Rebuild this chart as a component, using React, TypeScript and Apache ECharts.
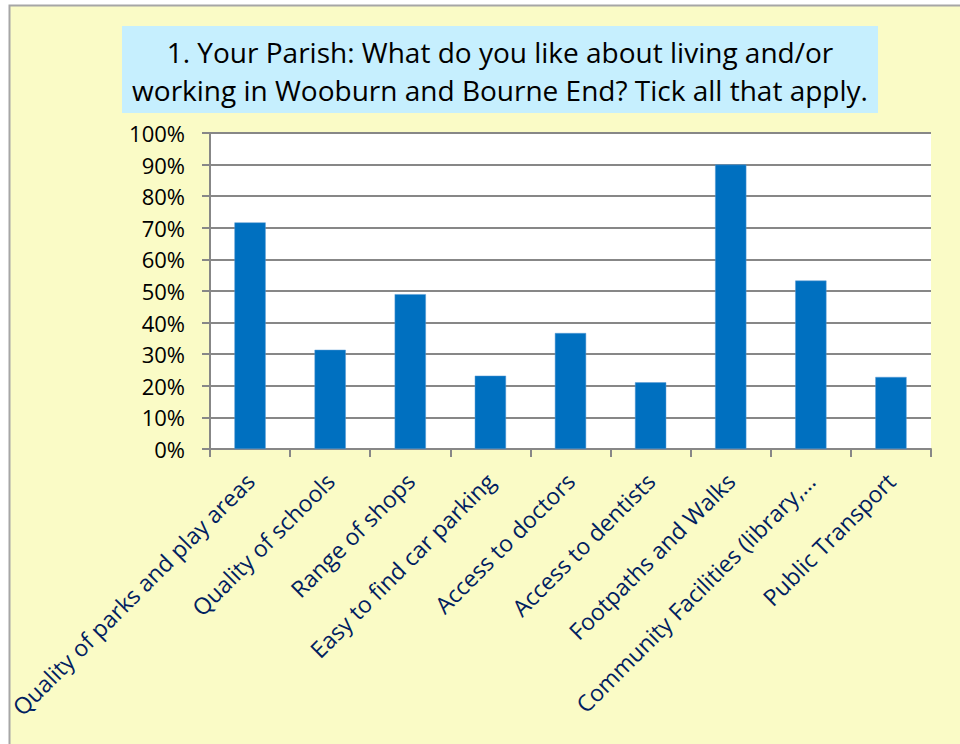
import React, { useEffect, useRef } from "react";
import * as echarts from "echarts";

const categories = [
  "Quality of parks and play areas",
  "Quality of schools",
  "Range of shops",
  "Easy to find car parking",
  "Access to doctors",
  "Access to dentists",
  "Footpaths and Walks",
  "Community Facilities (library,…",
  "Public Transport",
];
const values = [71.7, 31.4, 49.0, 23.2, 36.7, 21.1, 90.0, 53.3, 22.8];
const titleLines = [
  "1. Your Parish: What do you like about living and/or",
  "working in Wooburn and Bourne End? Tick all that apply.",
];

const FONT = "'Open Sans', 'Noto Sans', sans-serif";

export default function App() {
  const ref = useRef<HTMLDivElement>(null);
  useEffect(() => {
    if (!ref.current) return;
    const chart = echarts.init(ref.current, undefined, { renderer: "svg" });
    chart.setOption({
      animation: false,
      backgroundColor: "#ffffff",
      textStyle: { fontFamily: FONT },
      graphic: [
        {
          type: "rect",
          z: -10,
          shape: { x: 9.5, y: 5.5, width: 1000, height: 800 },
          style: { fill: "#FAFBC6", stroke: "#A6A6A6", lineWidth: 2 },
        },
        {
          type: "rect",
          z: -5,
          shape: { x: 122, y: 26, width: 756, height: 87 },
          style: { fill: "#C6EFFE" },
        },
        {
          type: "text",
          x: 500,
          y: 52,
          style: {
            text: titleLines[0],
            textAlign: "center",
            textVerticalAlign: "middle",
            fontSize: 28,
            fontFamily: FONT,
            fill: "#000000",
          },
        },
        {
          type: "text",
          x: 500,
          y: 90,
          style: {
            text: titleLines[1],
            textAlign: "center",
            textVerticalAlign: "middle",
            fontSize: 28,
            fontFamily: FONT,
            fill: "#000000",
          },
        },
      ],
      grid: {
        left: 210,
        top: 133,
        right: 29,
        bottom: 295,
        show: true,
        backgroundColor: "#ffffff",
        borderWidth: 0,
      },
      xAxis: {
        type: "category",
        data: categories,
        axisLine: { lineStyle: { color: "#878787", width: 2 } },
        axisTick: { show: true, length: 8, lineStyle: { color: "#878787", width: 2 } },
        axisLabel: {
          rotate: 45,
          interval: 0,
          margin: 28,
          fontSize: 23,
          color: "#002060",
          fontFamily: FONT,
        },
      },
      yAxis: {
        type: "value",
        min: 0,
        max: 100,
        interval: 10,
        axisLine: { show: true, lineStyle: { color: "#878787", width: 2 } },
        axisTick: { show: true, length: 8, lineStyle: { color: "#878787", width: 2 } },
        splitLine: { show: true, lineStyle: { color: "#878787", width: 2 } },
        axisLabel: {
          formatter: "{value}%",
          fontSize: 22,
          color: "#000000",
          margin: 25,
          fontFamily: FONT,
        },
      },
      series: [
        {
          type: "bar",
          data: values,
          barWidth: "39%",
          itemStyle: { color: "#0070C0", borderColor: "#5B9BD5", borderWidth: 0.5 },
        },
      ],
    });
    return () => chart.dispose();
  }, []);
  return (
    <div
      ref={ref}
      style={{ position: "absolute", left: 0, top: 0, width: 960, height: 744 }}
    />
  );
}
